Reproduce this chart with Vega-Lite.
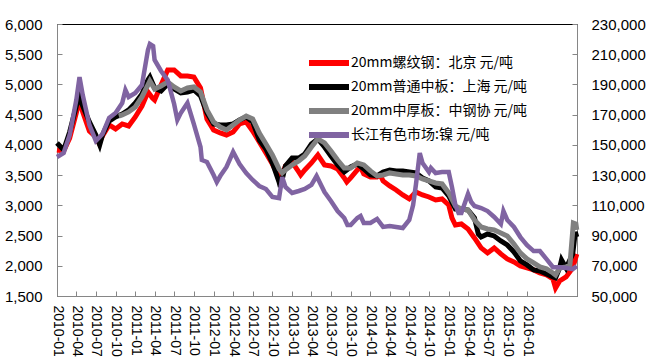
{
"$schema": "https://vega.github.io/schema/vega-lite/v6.json",
"width": 520, "height": 272,
"autosize": {"type": "none"},
"padding": {"left": 57, "top": 24, "right": 73, "bottom": 66},
"background": "white",
"config": {"view": {"stroke": "#000", "strokeWidth": 1},
"axisX": {"title": null, "grid": false, "format": "%Y-%m", "labelAngle": 90, "labelFont": "Liberation Sans", "labelFontSize": 14, "labelColor": "#000", "tickSize": -5, "tickColor": "#868686", "domainColor": "#868686", "labelPadding": 14, "labelOverlap": false, "labelFlush": false, "labelBound": false},
"axisY": {"title": null, "grid": false, "format": ",.0f", "labelFont": "Liberation Sans", "labelFontSize": 15, "labelColor": "#000", "tickSize": -5, "tickColor": "#868686", "domainColor": "#868686", "labelBound": false, "labelFlush": false}
},
"datasets": {
"steel": [
{"date":"2010-01-01","series":"20mm螺纹钢：北京 元/吨","value":3916},
{"date":"2010-02-01","series":"20mm螺纹钢：北京 元/吨","value":3900},
{"date":"2010-03-01","series":"20mm螺纹钢：北京 元/吨","value":4110},
{"date":"2010-04-01","series":"20mm螺纹钢：北京 元/吨","value":4528},
{"date":"2010-04-16","series":"20mm螺纹钢：北京 元/吨","value":4743},
{"date":"2010-05-01","series":"20mm螺纹钢：北京 元/吨","value":4545},
{"date":"2010-06-01","series":"20mm螺纹钢：北京 元/吨","value":4230},
{"date":"2010-07-01","series":"20mm螺纹钢：北京 元/吨","value":4131},
{"date":"2010-07-16","series":"20mm螺纹钢：北京 元/吨","value":4032},
{"date":"2010-08-01","series":"20mm螺纹钢：北京 元/吨","value":4148},
{"date":"2010-09-01","series":"20mm螺纹钢：北京 元/吨","value":4330},
{"date":"2010-10-01","series":"20mm螺纹钢：北京 元/吨","value":4264},
{"date":"2010-11-01","series":"20mm螺纹钢：北京 元/吨","value":4346},
{"date":"2010-12-01","series":"20mm螺纹钢：北京 元/吨","value":4313},
{"date":"2011-01-01","series":"20mm螺纹钢：北京 元/吨","value":4462},
{"date":"2011-02-01","series":"20mm螺纹钢：北京 元/吨","value":4643},
{"date":"2011-03-01","series":"20mm螺纹钢：北京 元/吨","value":4875},
{"date":"2011-03-22","series":"20mm螺纹钢：北京 元/吨","value":4776},
{"date":"2011-04-01","series":"20mm螺纹钢：北京 元/吨","value":4743},
{"date":"2011-05-01","series":"20mm螺纹钢：北京 元/吨","value":4991},
{"date":"2011-06-01","series":"20mm螺纹钢：北京 元/吨","value":5239},
{"date":"2011-07-01","series":"20mm螺纹钢：北京 元/吨","value":5239},
{"date":"2011-08-01","series":"20mm螺纹钢：北京 元/吨","value":5140},
{"date":"2011-09-01","series":"20mm螺纹钢：北京 元/吨","value":5140},
{"date":"2011-10-01","series":"20mm螺纹钢：北京 元/吨","value":5123},
{"date":"2011-11-01","series":"20mm螺纹钢：北京 元/吨","value":4941},
{"date":"2011-12-01","series":"20mm螺纹钢：北京 元/吨","value":4429},
{"date":"2012-01-01","series":"20mm螺纹钢：北京 元/吨","value":4247},
{"date":"2012-02-01","series":"20mm螺纹钢：北京 元/吨","value":4197},
{"date":"2012-03-01","series":"20mm螺纹钢：北京 元/吨","value":4164},
{"date":"2012-04-01","series":"20mm螺纹钢：北京 元/吨","value":4214},
{"date":"2012-05-01","series":"20mm螺纹钢：北京 元/吨","value":4346},
{"date":"2012-06-01","series":"20mm螺纹钢：北京 元/吨","value":4379},
{"date":"2012-07-01","series":"20mm螺纹钢：北京 元/吨","value":4230},
{"date":"2012-08-01","series":"20mm螺纹钢：北京 元/吨","value":4048},
{"date":"2012-09-01","series":"20mm螺纹钢：北京 元/吨","value":3866},
{"date":"2012-10-01","series":"20mm螺纹钢：北京 元/吨","value":3684},
{"date":"2012-11-01","series":"20mm螺纹钢：北京 元/吨","value":3469},
{"date":"2012-11-07","series":"20mm螺纹钢：北京 元/吨","value":3420},
{"date":"2012-12-01","series":"20mm螺纹钢：北京 元/吨","value":3651},
{"date":"2013-01-01","series":"20mm螺纹钢：北京 元/吨","value":3717},
{"date":"2013-02-01","series":"20mm螺纹钢：北京 元/吨","value":3552},
{"date":"2013-02-10","series":"20mm螺纹钢：北京 元/吨","value":3502},
{"date":"2013-03-01","series":"20mm螺纹钢：北京 元/吨","value":3585},
{"date":"2013-04-01","series":"20mm螺纹钢：北京 元/吨","value":3701},
{"date":"2013-05-01","series":"20mm螺纹钢：北京 元/吨","value":3833},
{"date":"2013-06-01","series":"20mm螺纹钢：北京 元/吨","value":3668},
{"date":"2013-07-01","series":"20mm螺纹钢：北京 元/吨","value":3651},
{"date":"2013-08-01","series":"20mm螺纹钢：北京 元/吨","value":3602},
{"date":"2013-09-01","series":"20mm螺纹钢：北京 元/吨","value":3453},
{"date":"2013-09-13","series":"20mm螺纹钢：北京 元/吨","value":3387},
{"date":"2013-10-01","series":"20mm螺纹钢：北京 元/吨","value":3453},
{"date":"2013-11-01","series":"20mm螺纹钢：北京 元/吨","value":3585},
{"date":"2013-11-16","series":"20mm螺纹钢：北京 元/吨","value":3635},
{"date":"2013-12-01","series":"20mm螺纹钢：北京 元/吨","value":3519},
{"date":"2014-01-01","series":"20mm螺纹钢：北京 元/吨","value":3469},
{"date":"2014-02-01","series":"20mm螺纹钢：北京 元/吨","value":3469},
{"date":"2014-02-16","series":"20mm螺纹钢：北京 元/吨","value":3502},
{"date":"2014-03-01","series":"20mm螺纹钢：北京 元/吨","value":3403},
{"date":"2014-04-01","series":"20mm螺纹钢：北京 元/吨","value":3320},
{"date":"2014-05-01","series":"20mm螺纹钢：北京 元/吨","value":3254},
{"date":"2014-06-01","series":"20mm螺纹钢：北京 元/吨","value":3172},
{"date":"2014-07-01","series":"20mm螺纹钢：北京 元/吨","value":3106},
{"date":"2014-08-01","series":"20mm螺纹钢：北京 元/吨","value":3221},
{"date":"2014-09-01","series":"20mm螺纹钢：北京 元/吨","value":3172},
{"date":"2014-10-01","series":"20mm螺纹钢：北京 元/吨","value":3138},
{"date":"2014-11-01","series":"20mm螺纹钢：北京 元/吨","value":3089},
{"date":"2014-12-01","series":"20mm螺纹钢：北京 元/吨","value":3106},
{"date":"2015-01-01","series":"20mm螺纹钢：北京 元/吨","value":3006},
{"date":"2015-01-16","series":"20mm螺纹钢：北京 元/吨","value":2791},
{"date":"2015-02-01","series":"20mm螺纹钢：北京 元/吨","value":2675},
{"date":"2015-03-01","series":"20mm螺纹钢：北京 元/吨","value":2692},
{"date":"2015-04-01","series":"20mm螺纹钢：北京 元/吨","value":2609},
{"date":"2015-05-01","series":"20mm螺纹钢：北京 元/吨","value":2460},
{"date":"2015-06-01","series":"20mm螺纹钢：北京 元/吨","value":2296},
{"date":"2015-07-01","series":"20mm螺纹钢：北京 元/吨","value":2213},
{"date":"2015-08-01","series":"20mm螺纹钢：北京 元/吨","value":2296},
{"date":"2015-09-01","series":"20mm螺纹钢：北京 元/吨","value":2196},
{"date":"2015-10-01","series":"20mm螺纹钢：北京 元/吨","value":2113},
{"date":"2015-11-01","series":"20mm螺纹钢：北京 元/吨","value":2063},
{"date":"2015-12-01","series":"20mm螺纹钢：北京 元/吨","value":1997},
{"date":"2016-01-01","series":"20mm螺纹钢：北京 元/吨","value":1964},
{"date":"2016-02-01","series":"20mm螺纹钢：北京 元/吨","value":1931},
{"date":"2016-03-01","series":"20mm螺纹钢：北京 元/吨","value":1881},
{"date":"2016-04-01","series":"20mm螺纹钢：北京 元/吨","value":1848},
{"date":"2016-05-01","series":"20mm螺纹钢：北京 元/吨","value":1782},
{"date":"2016-05-13","series":"20mm螺纹钢：北京 元/吨","value":1633},
{"date":"2016-06-01","series":"20mm螺纹钢：北京 元/吨","value":1749},
{"date":"2016-07-01","series":"20mm螺纹钢：北京 元/吨","value":1815},
{"date":"2016-08-01","series":"20mm螺纹钢：北京 元/吨","value":1964},
{"date":"2016-08-20","series":"20mm螺纹钢：北京 元/吨","value":2196},
{"date":"2010-01-01","series":"20mm普通中板：上海 元/吨","value":4032},
{"date":"2010-02-01","series":"20mm普通中板：上海 元/吨","value":3916},
{"date":"2010-03-01","series":"20mm普通中板：上海 元/吨","value":4214},
{"date":"2010-04-01","series":"20mm普通中板：上海 元/吨","value":4643},
{"date":"2010-04-16","series":"20mm普通中板：上海 元/吨","value":4793},
{"date":"2010-05-01","series":"20mm普通中板：上海 元/吨","value":4643},
{"date":"2010-06-01","series":"20mm普通中板：上海 元/吨","value":4379},
{"date":"2010-07-01","series":"20mm普通中板：上海 元/吨","value":4164},
{"date":"2010-07-19","series":"20mm普通中板：上海 元/吨","value":3999},
{"date":"2010-08-01","series":"20mm普通中板：上海 元/吨","value":4164},
{"date":"2010-09-01","series":"20mm普通中板：上海 元/吨","value":4395},
{"date":"2010-10-01","series":"20mm普通中板：上海 元/吨","value":4462},
{"date":"2010-11-01","series":"20mm普通中板：上海 元/吨","value":4511},
{"date":"2010-12-01","series":"20mm普通中板：上海 元/吨","value":4578},
{"date":"2011-01-01","series":"20mm普通中板：上海 元/吨","value":4693},
{"date":"2011-02-01","series":"20mm普通中板：上海 元/吨","value":4842},
{"date":"2011-03-01","series":"20mm普通中板：上海 元/吨","value":5074},
{"date":"2011-03-10","series":"20mm普通中板：上海 元/吨","value":5123},
{"date":"2011-04-01","series":"20mm普通中板：上海 元/吨","value":4941},
{"date":"2011-05-01","series":"20mm普通中板：上海 元/吨","value":4892},
{"date":"2011-06-01","series":"20mm普通中板：上海 元/吨","value":5008},
{"date":"2011-07-01","series":"20mm普通中板：上海 元/吨","value":4925},
{"date":"2011-08-01","series":"20mm普通中板：上海 元/吨","value":4859},
{"date":"2011-09-01","series":"20mm普通中板：上海 元/吨","value":4875},
{"date":"2011-10-01","series":"20mm普通中板：上海 元/吨","value":4908},
{"date":"2011-11-01","series":"20mm普通中板：上海 元/吨","value":4809},
{"date":"2011-12-01","series":"20mm普通中板：上海 元/吨","value":4528},
{"date":"2012-01-01","series":"20mm普通中板：上海 元/吨","value":4346},
{"date":"2012-02-01","series":"20mm普通中板：上海 元/吨","value":4330},
{"date":"2012-03-01","series":"20mm普通中板：上海 元/吨","value":4330},
{"date":"2012-04-01","series":"20mm普通中板：上海 元/吨","value":4346},
{"date":"2012-05-01","series":"20mm普通中板：上海 元/吨","value":4412},
{"date":"2012-06-01","series":"20mm普通中板：上海 元/吨","value":4462},
{"date":"2012-07-01","series":"20mm普通中板：上海 元/吨","value":4379},
{"date":"2012-08-01","series":"20mm普通中板：上海 元/吨","value":4081},
{"date":"2012-09-01","series":"20mm普通中板：上海 元/吨","value":3933},
{"date":"2012-10-01","series":"20mm普通中板：上海 元/吨","value":3701},
{"date":"2012-11-01","series":"20mm普通中板：上海 元/吨","value":3387},
{"date":"2012-11-07","series":"20mm普通中板：上海 元/吨","value":3304},
{"date":"2012-12-01","series":"20mm普通中板：上海 元/吨","value":3651},
{"date":"2013-01-01","series":"20mm普通中板：上海 元/吨","value":3783},
{"date":"2013-02-01","series":"20mm普通中板：上海 元/吨","value":3783},
{"date":"2013-03-01","series":"20mm普通中板：上海 元/吨","value":3850},
{"date":"2013-04-01","series":"20mm普通中板：上海 元/吨","value":4015},
{"date":"2013-05-01","series":"20mm普通中板：上海 元/吨","value":4098},
{"date":"2013-06-01","series":"20mm普通中板：上海 元/吨","value":3966},
{"date":"2013-07-01","series":"20mm普通中板：上海 元/吨","value":3817},
{"date":"2013-08-01","series":"20mm普通中板：上海 元/吨","value":3668},
{"date":"2013-09-01","series":"20mm普通中板：上海 元/吨","value":3552},
{"date":"2013-10-01","series":"20mm普通中板：上海 元/吨","value":3635},
{"date":"2013-11-01","series":"20mm普通中板：上海 元/吨","value":3684},
{"date":"2013-12-01","series":"20mm普通中板：上海 元/吨","value":3602},
{"date":"2014-01-01","series":"20mm普通中板：上海 元/吨","value":3502},
{"date":"2014-02-01","series":"20mm普通中板：上海 元/吨","value":3486},
{"date":"2014-03-01","series":"20mm普通中板：上海 元/吨","value":3552},
{"date":"2014-04-01","series":"20mm普通中板：上海 元/吨","value":3585},
{"date":"2014-05-01","series":"20mm普通中板：上海 元/吨","value":3569},
{"date":"2014-06-01","series":"20mm普通中板：上海 元/吨","value":3569},
{"date":"2014-07-01","series":"20mm普通中板：上海 元/吨","value":3552},
{"date":"2014-08-01","series":"20mm普通中板：上海 元/吨","value":3536},
{"date":"2014-09-01","series":"20mm普通中板：上海 元/吨","value":3453},
{"date":"2014-10-01","series":"20mm普通中板：上海 元/吨","value":3403},
{"date":"2014-11-01","series":"20mm普通中板：上海 元/吨","value":3304},
{"date":"2014-12-01","series":"20mm普通中板：上海 元/吨","value":3287},
{"date":"2015-01-01","series":"20mm普通中板：上海 元/吨","value":3155},
{"date":"2015-02-01","series":"20mm普通中板：上海 元/吨","value":2940},
{"date":"2015-03-01","series":"20mm普通中板：上海 元/吨","value":2940},
{"date":"2015-04-01","series":"20mm普通中板：上海 元/吨","value":2923},
{"date":"2015-05-01","series":"20mm普通中板：上海 元/吨","value":2791},
{"date":"2015-05-19","series":"20mm普通中板：上海 元/吨","value":2526},
{"date":"2015-06-01","series":"20mm普通中板：上海 元/吨","value":2477},
{"date":"2015-07-01","series":"20mm普通中板：上海 元/吨","value":2526},
{"date":"2015-08-01","series":"20mm普通中板：上海 元/吨","value":2493},
{"date":"2015-09-01","series":"20mm普通中板：上海 元/吨","value":2411},
{"date":"2015-10-01","series":"20mm普通中板：上海 元/吨","value":2345},
{"date":"2015-11-01","series":"20mm普通中板：上海 元/吨","value":2229},
{"date":"2015-12-01","series":"20mm普通中板：上海 元/吨","value":2080},
{"date":"2016-01-01","series":"20mm普通中板：上海 元/吨","value":2014},
{"date":"2016-02-01","series":"20mm普通中板：上海 元/吨","value":1931},
{"date":"2016-03-01","series":"20mm普通中板：上海 元/吨","value":1914},
{"date":"2016-04-01","series":"20mm普通中板：上海 元/吨","value":1865},
{"date":"2016-05-01","series":"20mm普通中板：上海 元/吨","value":1815},
{"date":"2016-05-13","series":"20mm普通中板：上海 元/吨","value":1799},
{"date":"2016-06-01","series":"20mm普通中板：上海 元/吨","value":1964},
{"date":"2016-06-10","series":"20mm普通中板：上海 元/吨","value":2097},
{"date":"2016-07-01","series":"20mm普通中板：上海 元/吨","value":1964},
{"date":"2016-08-01","series":"20mm普通中板：上海 元/吨","value":2196},
{"date":"2016-08-13","series":"20mm普通中板：上海 元/吨","value":2560},
{"date":"2016-08-20","series":"20mm普通中板：上海 元/吨","value":2477},
{"date":"2010-10-16","series":"20mm中厚板：中钢协 元/吨","value":4478},
{"date":"2010-11-01","series":"20mm中厚板：中钢协 元/吨","value":4495},
{"date":"2010-12-01","series":"20mm中厚板：中钢协 元/吨","value":4545},
{"date":"2011-01-01","series":"20mm中厚板：中钢协 元/吨","value":4627},
{"date":"2011-02-01","series":"20mm中厚板：中钢协 元/吨","value":4793},
{"date":"2011-03-01","series":"20mm中厚板：中钢协 元/吨","value":4991},
{"date":"2011-03-10","series":"20mm中厚板：中钢协 元/吨","value":5057},
{"date":"2011-04-01","series":"20mm中厚板：中钢协 元/吨","value":4925},
{"date":"2011-05-01","series":"20mm中厚板：中钢协 元/吨","value":4975},
{"date":"2011-06-01","series":"20mm中厚板：中钢协 元/吨","value":5041},
{"date":"2011-07-01","series":"20mm中厚板：中钢协 元/吨","value":4958},
{"date":"2011-08-01","series":"20mm中厚板：中钢协 元/吨","value":4892},
{"date":"2011-09-01","series":"20mm中厚板：中钢协 元/吨","value":4941},
{"date":"2011-10-01","series":"20mm中厚板：中钢协 元/吨","value":4958},
{"date":"2011-11-01","series":"20mm中厚板：中钢协 元/吨","value":4875},
{"date":"2011-12-01","series":"20mm中厚板：中钢协 元/吨","value":4578},
{"date":"2012-01-01","series":"20mm中厚板：中钢协 元/吨","value":4379},
{"date":"2012-02-01","series":"20mm中厚板：中钢协 元/吨","value":4296},
{"date":"2012-03-01","series":"20mm中厚板：中钢协 元/吨","value":4247},
{"date":"2012-04-01","series":"20mm中厚板：中钢协 元/吨","value":4330},
{"date":"2012-05-01","series":"20mm中厚板：中钢协 元/吨","value":4412},
{"date":"2012-06-01","series":"20mm中厚板：中钢协 元/吨","value":4478},
{"date":"2012-07-01","series":"20mm中厚板：中钢协 元/吨","value":4429},
{"date":"2012-08-01","series":"20mm中厚板：中钢协 元/吨","value":4197},
{"date":"2012-09-01","series":"20mm中厚板：中钢协 元/吨","value":4015},
{"date":"2012-10-01","series":"20mm中厚板：中钢协 元/吨","value":3833},
{"date":"2012-11-01","series":"20mm中厚板：中钢协 元/吨","value":3602},
{"date":"2012-11-16","series":"20mm中厚板：中钢协 元/吨","value":3536},
{"date":"2012-12-01","series":"20mm中厚板：中钢协 元/吨","value":3585},
{"date":"2013-01-01","series":"20mm中厚板：中钢协 元/吨","value":3668},
{"date":"2013-02-01","series":"20mm中厚板：中钢协 元/吨","value":3734},
{"date":"2013-03-01","series":"20mm中厚板：中钢协 元/吨","value":3817},
{"date":"2013-04-01","series":"20mm中厚板：中钢协 元/吨","value":3966},
{"date":"2013-05-01","series":"20mm中厚板：中钢协 元/吨","value":4098},
{"date":"2013-06-01","series":"20mm中厚板：中钢协 元/吨","value":4032},
{"date":"2013-07-01","series":"20mm中厚板：中钢协 元/吨","value":3899},
{"date":"2013-08-01","series":"20mm中厚板：中钢协 元/吨","value":3750},
{"date":"2013-09-01","series":"20mm中厚板：中钢协 元/吨","value":3618},
{"date":"2013-10-01","series":"20mm中厚板：中钢协 元/吨","value":3618},
{"date":"2013-11-01","series":"20mm中厚板：中钢协 元/吨","value":3701},
{"date":"2013-12-01","series":"20mm中厚板：中钢协 元/吨","value":3668},
{"date":"2014-01-01","series":"20mm中厚板：中钢协 元/吨","value":3569},
{"date":"2014-02-01","series":"20mm中厚板：中钢协 元/吨","value":3486},
{"date":"2014-03-01","series":"20mm中厚板：中钢协 元/吨","value":3502},
{"date":"2014-04-01","series":"20mm中厚板：中钢协 元/吨","value":3536},
{"date":"2014-05-01","series":"20mm中厚板：中钢协 元/吨","value":3519},
{"date":"2014-06-01","series":"20mm中厚板：中钢协 元/吨","value":3502},
{"date":"2014-07-01","series":"20mm中厚板：中钢协 元/吨","value":3502},
{"date":"2014-08-01","series":"20mm中厚板：中钢协 元/吨","value":3486},
{"date":"2014-09-01","series":"20mm中厚板：中钢协 元/吨","value":3436},
{"date":"2014-10-01","series":"20mm中厚板：中钢协 元/吨","value":3403},
{"date":"2014-11-01","series":"20mm中厚板：中钢协 元/吨","value":3370},
{"date":"2014-12-01","series":"20mm中厚板：中钢协 元/吨","value":3354},
{"date":"2015-01-01","series":"20mm中厚板：中钢协 元/吨","value":3205},
{"date":"2015-02-01","series":"20mm中厚板：中钢协 元/吨","value":2990},
{"date":"2015-03-01","series":"20mm中厚板：中钢协 元/吨","value":2940},
{"date":"2015-04-01","series":"20mm中厚板：中钢协 元/吨","value":2923},
{"date":"2015-05-01","series":"20mm中厚板：中钢协 元/吨","value":2758},
{"date":"2015-06-01","series":"20mm中厚板：中钢协 元/吨","value":2642},
{"date":"2015-07-01","series":"20mm中厚板：中钢协 元/吨","value":2609},
{"date":"2015-08-01","series":"20mm中厚板：中钢协 元/吨","value":2593},
{"date":"2015-09-01","series":"20mm中厚板：中钢协 元/吨","value":2543},
{"date":"2015-10-01","series":"20mm中厚板：中钢协 元/吨","value":2493},
{"date":"2015-11-01","series":"20mm中厚板：中钢协 元/吨","value":2361},
{"date":"2015-12-01","series":"20mm中厚板：中钢协 元/吨","value":2213},
{"date":"2016-01-01","series":"20mm中厚板：中钢协 元/吨","value":2113},
{"date":"2016-02-01","series":"20mm中厚板：中钢协 元/吨","value":2047},
{"date":"2016-03-01","series":"20mm中厚板：中钢协 元/吨","value":1981},
{"date":"2016-04-01","series":"20mm中厚板：中钢协 元/吨","value":1948},
{"date":"2016-05-01","series":"20mm中厚板：中钢协 元/吨","value":1881},
{"date":"2016-05-13","series":"20mm中厚板：中钢协 元/吨","value":1848},
{"date":"2016-06-01","series":"20mm中厚板：中钢协 元/吨","value":1964},
{"date":"2016-07-01","series":"20mm中厚板：中钢协 元/吨","value":1981},
{"date":"2016-07-19","series":"20mm中厚板：中钢协 元/吨","value":2014},
{"date":"2016-08-04","series":"20mm中厚板：中钢协 元/吨","value":2708},
{"date":"2016-08-16","series":"20mm中厚板：中钢协 元/吨","value":2692},
{"date":"2016-08-20","series":"20mm中厚板：中钢协 元/吨","value":2593}
],
"nickel": [
{"date":"2010-01-01","series":"长江有色市场:镍 元/吨","value":142000},
{"date":"2010-02-01","series":"长江有色市场:镍 元/吨","value":144600},
{"date":"2010-03-01","series":"长江有色市场:镍 元/吨","value":156500},
{"date":"2010-04-01","series":"长江有色市场:镍 元/吨","value":179700},
{"date":"2010-04-16","series":"长江有色市场:镍 元/吨","value":194900},
{"date":"2010-05-01","series":"长江有色市场:镍 元/吨","value":183000},
{"date":"2010-06-01","series":"长江有色市场:镍 元/吨","value":163200},
{"date":"2010-07-01","series":"长江有色市场:镍 元/吨","value":152600},
{"date":"2010-08-01","series":"长江有色市场:镍 元/吨","value":157200},
{"date":"2010-09-01","series":"长江有色市场:镍 元/吨","value":167800},
{"date":"2010-10-01","series":"长江有色市场:镍 元/吨","value":171100},
{"date":"2010-11-01","series":"长江有色市场:镍 元/吨","value":177700},
{"date":"2010-11-16","series":"长江有色市场:镍 元/吨","value":186300},
{"date":"2010-12-01","series":"长江有色市场:镍 元/吨","value":181700},
{"date":"2011-01-01","series":"长江有色市场:镍 元/吨","value":184300},
{"date":"2011-02-01","series":"长江有色市场:镍 元/吨","value":189600},
{"date":"2011-03-01","series":"长江有色市场:镍 元/吨","value":212800},
{"date":"2011-03-10","series":"长江有色市场:镍 元/吨","value":216800},
{"date":"2011-03-25","series":"长江有色市场:镍 元/吨","value":215400},
{"date":"2011-04-01","series":"长江有色市场:镍 元/吨","value":206200},
{"date":"2011-05-01","series":"长江有色市场:镍 元/吨","value":198900},
{"date":"2011-06-01","series":"长江有色市场:镍 元/吨","value":192900},
{"date":"2011-07-01","series":"长江有色市场:镍 元/吨","value":177100},
{"date":"2011-07-16","series":"长江有色市场:镍 元/吨","value":166500},
{"date":"2011-08-01","series":"长江有色市场:镍 元/吨","value":171100},
{"date":"2011-09-01","series":"长江有色市场:镍 元/吨","value":177700},
{"date":"2011-10-01","series":"长江有色市场:镍 元/吨","value":163800},
{"date":"2011-11-01","series":"长江有色市场:镍 元/吨","value":148600},
{"date":"2011-11-07","series":"长江有色市场:镍 元/吨","value":140000},
{"date":"2011-12-01","series":"长江有色市场:镍 元/吨","value":138700},
{"date":"2012-01-01","series":"长江有色市场:镍 元/吨","value":130100},
{"date":"2012-01-16","series":"长江有色市场:镍 元/吨","value":125400},
{"date":"2012-02-01","series":"长江有色市场:镍 元/吨","value":129400},
{"date":"2012-03-01","series":"长江有色市场:镍 元/吨","value":135400},
{"date":"2012-04-01","series":"长江有色市场:镍 元/吨","value":145300},
{"date":"2012-05-01","series":"长江有色市场:镍 元/吨","value":137300},
{"date":"2012-06-01","series":"长江有色市场:镍 元/吨","value":131400},
{"date":"2012-07-01","series":"长江有色市场:镍 元/吨","value":126800},
{"date":"2012-08-01","series":"长江有色市场:镍 元/吨","value":122800},
{"date":"2012-09-01","series":"长江有色市场:镍 元/吨","value":120800},
{"date":"2012-10-01","series":"长江有色市场:镍 元/吨","value":115500},
{"date":"2012-11-01","series":"长江有色市场:镍 元/吨","value":114800},
{"date":"2012-11-16","series":"长江有色市场:镍 元/吨","value":128700},
{"date":"2012-12-01","series":"长江有色市场:镍 元/吨","value":122100},
{"date":"2013-01-01","series":"长江有色市场:镍 元/吨","value":118200},
{"date":"2013-02-01","series":"长江有色市场:镍 元/吨","value":119500},
{"date":"2013-03-01","series":"长江有色市场:镍 元/吨","value":120800},
{"date":"2013-04-01","series":"长江有色市场:镍 元/吨","value":123500},
{"date":"2013-04-25","series":"长江有色市场:镍 元/吨","value":129400},
{"date":"2013-06-01","series":"长江有色市场:镍 元/吨","value":118800},
{"date":"2013-07-01","series":"长江有色市场:镍 元/吨","value":112900},
{"date":"2013-08-01","series":"长江有色市场:镍 元/吨","value":106200},
{"date":"2013-09-01","series":"长江有色市场:镍 元/吨","value":101600},
{"date":"2013-09-16","series":"长江有色市场:镍 元/吨","value":97000},
{"date":"2013-10-01","series":"长江有色市场:镍 元/吨","value":97000},
{"date":"2013-11-01","series":"长江有色市场:镍 元/吨","value":101600},
{"date":"2013-11-16","series":"长江有色市场:镍 元/吨","value":102900},
{"date":"2013-12-01","series":"长江有色市场:镍 元/吨","value":98300},
{"date":"2014-01-01","series":"长江有色市场:镍 元/吨","value":98300},
{"date":"2014-02-01","series":"长江有色市场:镍 元/吨","value":101000},
{"date":"2014-03-01","series":"长江有色市场:镍 元/吨","value":95700},
{"date":"2014-04-01","series":"长江有色市场:镍 元/吨","value":96300},
{"date":"2014-05-01","series":"长江有色市场:镍 元/吨","value":95700},
{"date":"2014-06-01","series":"长江有色市场:镍 元/吨","value":95000},
{"date":"2014-07-01","series":"长江有色市场:镍 元/吨","value":100300},
{"date":"2014-07-19","series":"长江有色市场:镍 元/吨","value":110200},
{"date":"2014-08-01","series":"长江有色市场:镍 元/吨","value":123500},
{"date":"2014-08-19","series":"长江有色市场:镍 元/吨","value":144600},
{"date":"2014-09-01","series":"长江有色市场:镍 元/吨","value":138000},
{"date":"2014-10-01","series":"长江有色市场:镍 元/吨","value":132000},
{"date":"2014-10-10","series":"长江有色市场:镍 元/吨","value":134700},
{"date":"2014-11-01","series":"长江有色市场:镍 元/吨","value":131400},
{"date":"2014-12-01","series":"长江有色市场:镍 元/吨","value":132000},
{"date":"2015-01-01","series":"长江有色市场:镍 元/吨","value":132000},
{"date":"2015-01-16","series":"长江有色市场:镍 元/吨","value":122100},
{"date":"2015-02-01","series":"长江有色市场:镍 元/吨","value":110200},
{"date":"2015-02-16","series":"长江有色市场:镍 元/吨","value":104900},
{"date":"2015-03-01","series":"长江有色市场:镍 元/吨","value":104900},
{"date":"2015-04-01","series":"长江有色市场:镍 元/吨","value":117500},
{"date":"2015-04-16","series":"长江有色市场:镍 元/吨","value":112200},
{"date":"2015-05-01","series":"长江有色市场:镍 元/吨","value":109600},
{"date":"2015-06-01","series":"长江有色市场:镍 元/吨","value":108200},
{"date":"2015-07-01","series":"长江有色市场:镍 元/吨","value":106200},
{"date":"2015-08-01","series":"长江有色市场:镍 元/吨","value":102300},
{"date":"2015-09-01","series":"长江有色市场:镍 元/吨","value":97600},
{"date":"2015-09-13","series":"长江有色市场:镍 元/吨","value":106200},
{"date":"2015-10-01","series":"长江有色市场:镍 元/吨","value":100300},
{"date":"2015-11-01","series":"长江有色市场:镍 元/吨","value":95700},
{"date":"2015-12-01","series":"长江有色市场:镍 元/吨","value":89000},
{"date":"2016-01-01","series":"长江有色市场:镍 元/吨","value":83700},
{"date":"2016-02-01","series":"长江有色市场:镍 元/吨","value":79700},
{"date":"2016-03-01","series":"长江有色市场:镍 元/吨","value":79700},
{"date":"2016-04-01","series":"长江有色市场:镍 元/吨","value":74400},
{"date":"2016-05-01","series":"长江有色市场:镍 元/吨","value":69100},
{"date":"2016-06-01","series":"长江有色市场:镍 元/吨","value":69100},
{"date":"2016-07-01","series":"长江有色市场:镍 元/吨","value":68500},
{"date":"2016-08-01","series":"长江有色市场:镍 元/吨","value":67800},
{"date":"2016-08-20","series":"长江有色市场:镍 元/吨","value":69800}
]
},
"layer": [
{
"data": {"name": "steel"},
"mark": {"type": "line", "strokeWidth": 5},
"encoding": {
"x": {"field": "date", "type": "temporal",
"scale": {"type": "utc", "domain": [{"year": 2010, "month": 1, "date": 1, "utc": true}, {"year": 2016, "month": 8, "date": 21, "utc": true}]},
"axis": {"values": [{"year":2010,"month":1,"date":1,"utc":true},{"year":2010,"month":4,"date":1,"utc":true},{"year":2010,"month":7,"date":1,"utc":true},{"year":2010,"month":10,"date":1,"utc":true},{"year":2011,"month":1,"date":1,"utc":true},{"year":2011,"month":4,"date":1,"utc":true},{"year":2011,"month":7,"date":1,"utc":true},{"year":2011,"month":10,"date":1,"utc":true},{"year":2012,"month":1,"date":1,"utc":true},{"year":2012,"month":4,"date":1,"utc":true},{"year":2012,"month":7,"date":1,"utc":true},{"year":2012,"month":10,"date":1,"utc":true},{"year":2013,"month":1,"date":1,"utc":true},{"year":2013,"month":4,"date":1,"utc":true},{"year":2013,"month":7,"date":1,"utc":true},{"year":2013,"month":10,"date":1,"utc":true},{"year":2014,"month":1,"date":1,"utc":true},{"year":2014,"month":4,"date":1,"utc":true},{"year":2014,"month":7,"date":1,"utc":true},{"year":2014,"month":10,"date":1,"utc":true},{"year":2015,"month":1,"date":1,"utc":true},{"year":2015,"month":4,"date":1,"utc":true},{"year":2015,"month":7,"date":1,"utc":true},{"year":2015,"month":10,"date":1,"utc":true},{"year":2016,"month":1,"date":1,"utc":true}]}},
"y": {"field": "value", "type": "quantitative",
"scale": {"domain": [1500, 6000], "nice": false, "zero": false},
"axis": {"orient": "left", "values": [1500, 2000, 2500, 3000, 3500, 4000, 4500, 5000, 5500, 6000], "labelPadding": 20}},
"color": {"field": "series", "type": "nominal",
"scale": {"domain": ["20mm螺纹钢：北京 元/吨", "20mm普通中板：上海 元/吨", "20mm中厚板：中钢协 元/吨", "长江有色市场:镍 元/吨"], "range": ["#FF0000", "#000000", "#808080", "#8064A2"]},
"legend": {"title": null, "orient": "none", "legendX": 265, "legendY": 32, "symbolType": "M-5,0H5", "symbolSize": 64, "symbolStrokeWidth": 6, "labelFont": "Noto Sans CJK SC", "labelFontSize": 14, "labelColor": "#000", "labelOffset": 15, "rowPadding": 0, "padding": 0, "labelLimit": 400}}
}
},
{
"data": {"name": "nickel"},
"mark": {"type": "line", "strokeWidth": 4.5},
"encoding": {
"x": {"field": "date", "type": "temporal",
"axis": {"values": [{"year":2010,"month":1,"date":1,"utc":true},{"year":2010,"month":4,"date":1,"utc":true},{"year":2010,"month":7,"date":1,"utc":true},{"year":2010,"month":10,"date":1,"utc":true},{"year":2011,"month":1,"date":1,"utc":true},{"year":2011,"month":4,"date":1,"utc":true},{"year":2011,"month":7,"date":1,"utc":true},{"year":2011,"month":10,"date":1,"utc":true},{"year":2012,"month":1,"date":1,"utc":true},{"year":2012,"month":4,"date":1,"utc":true},{"year":2012,"month":7,"date":1,"utc":true},{"year":2012,"month":10,"date":1,"utc":true},{"year":2013,"month":1,"date":1,"utc":true},{"year":2013,"month":4,"date":1,"utc":true},{"year":2013,"month":7,"date":1,"utc":true},{"year":2013,"month":10,"date":1,"utc":true},{"year":2014,"month":1,"date":1,"utc":true},{"year":2014,"month":4,"date":1,"utc":true},{"year":2014,"month":7,"date":1,"utc":true},{"year":2014,"month":10,"date":1,"utc":true},{"year":2015,"month":1,"date":1,"utc":true},{"year":2015,"month":4,"date":1,"utc":true},{"year":2015,"month":7,"date":1,"utc":true},{"year":2015,"month":10,"date":1,"utc":true},{"year":2016,"month":1,"date":1,"utc":true}]}},
"y": {"field": "value", "type": "quantitative",
"scale": {"domain": [50000, 230000], "nice": false, "zero": false},
"axis": {"orient": "right", "values": [50000, 70000, 90000, 110000, 130000, 150000, 170000, 190000, 210000, 230000], "labelPadding": 19}},
"color": {"field": "series", "type": "nominal"}
}
}
],
"resolve": {"scale": {"y": "independent"}}
}
